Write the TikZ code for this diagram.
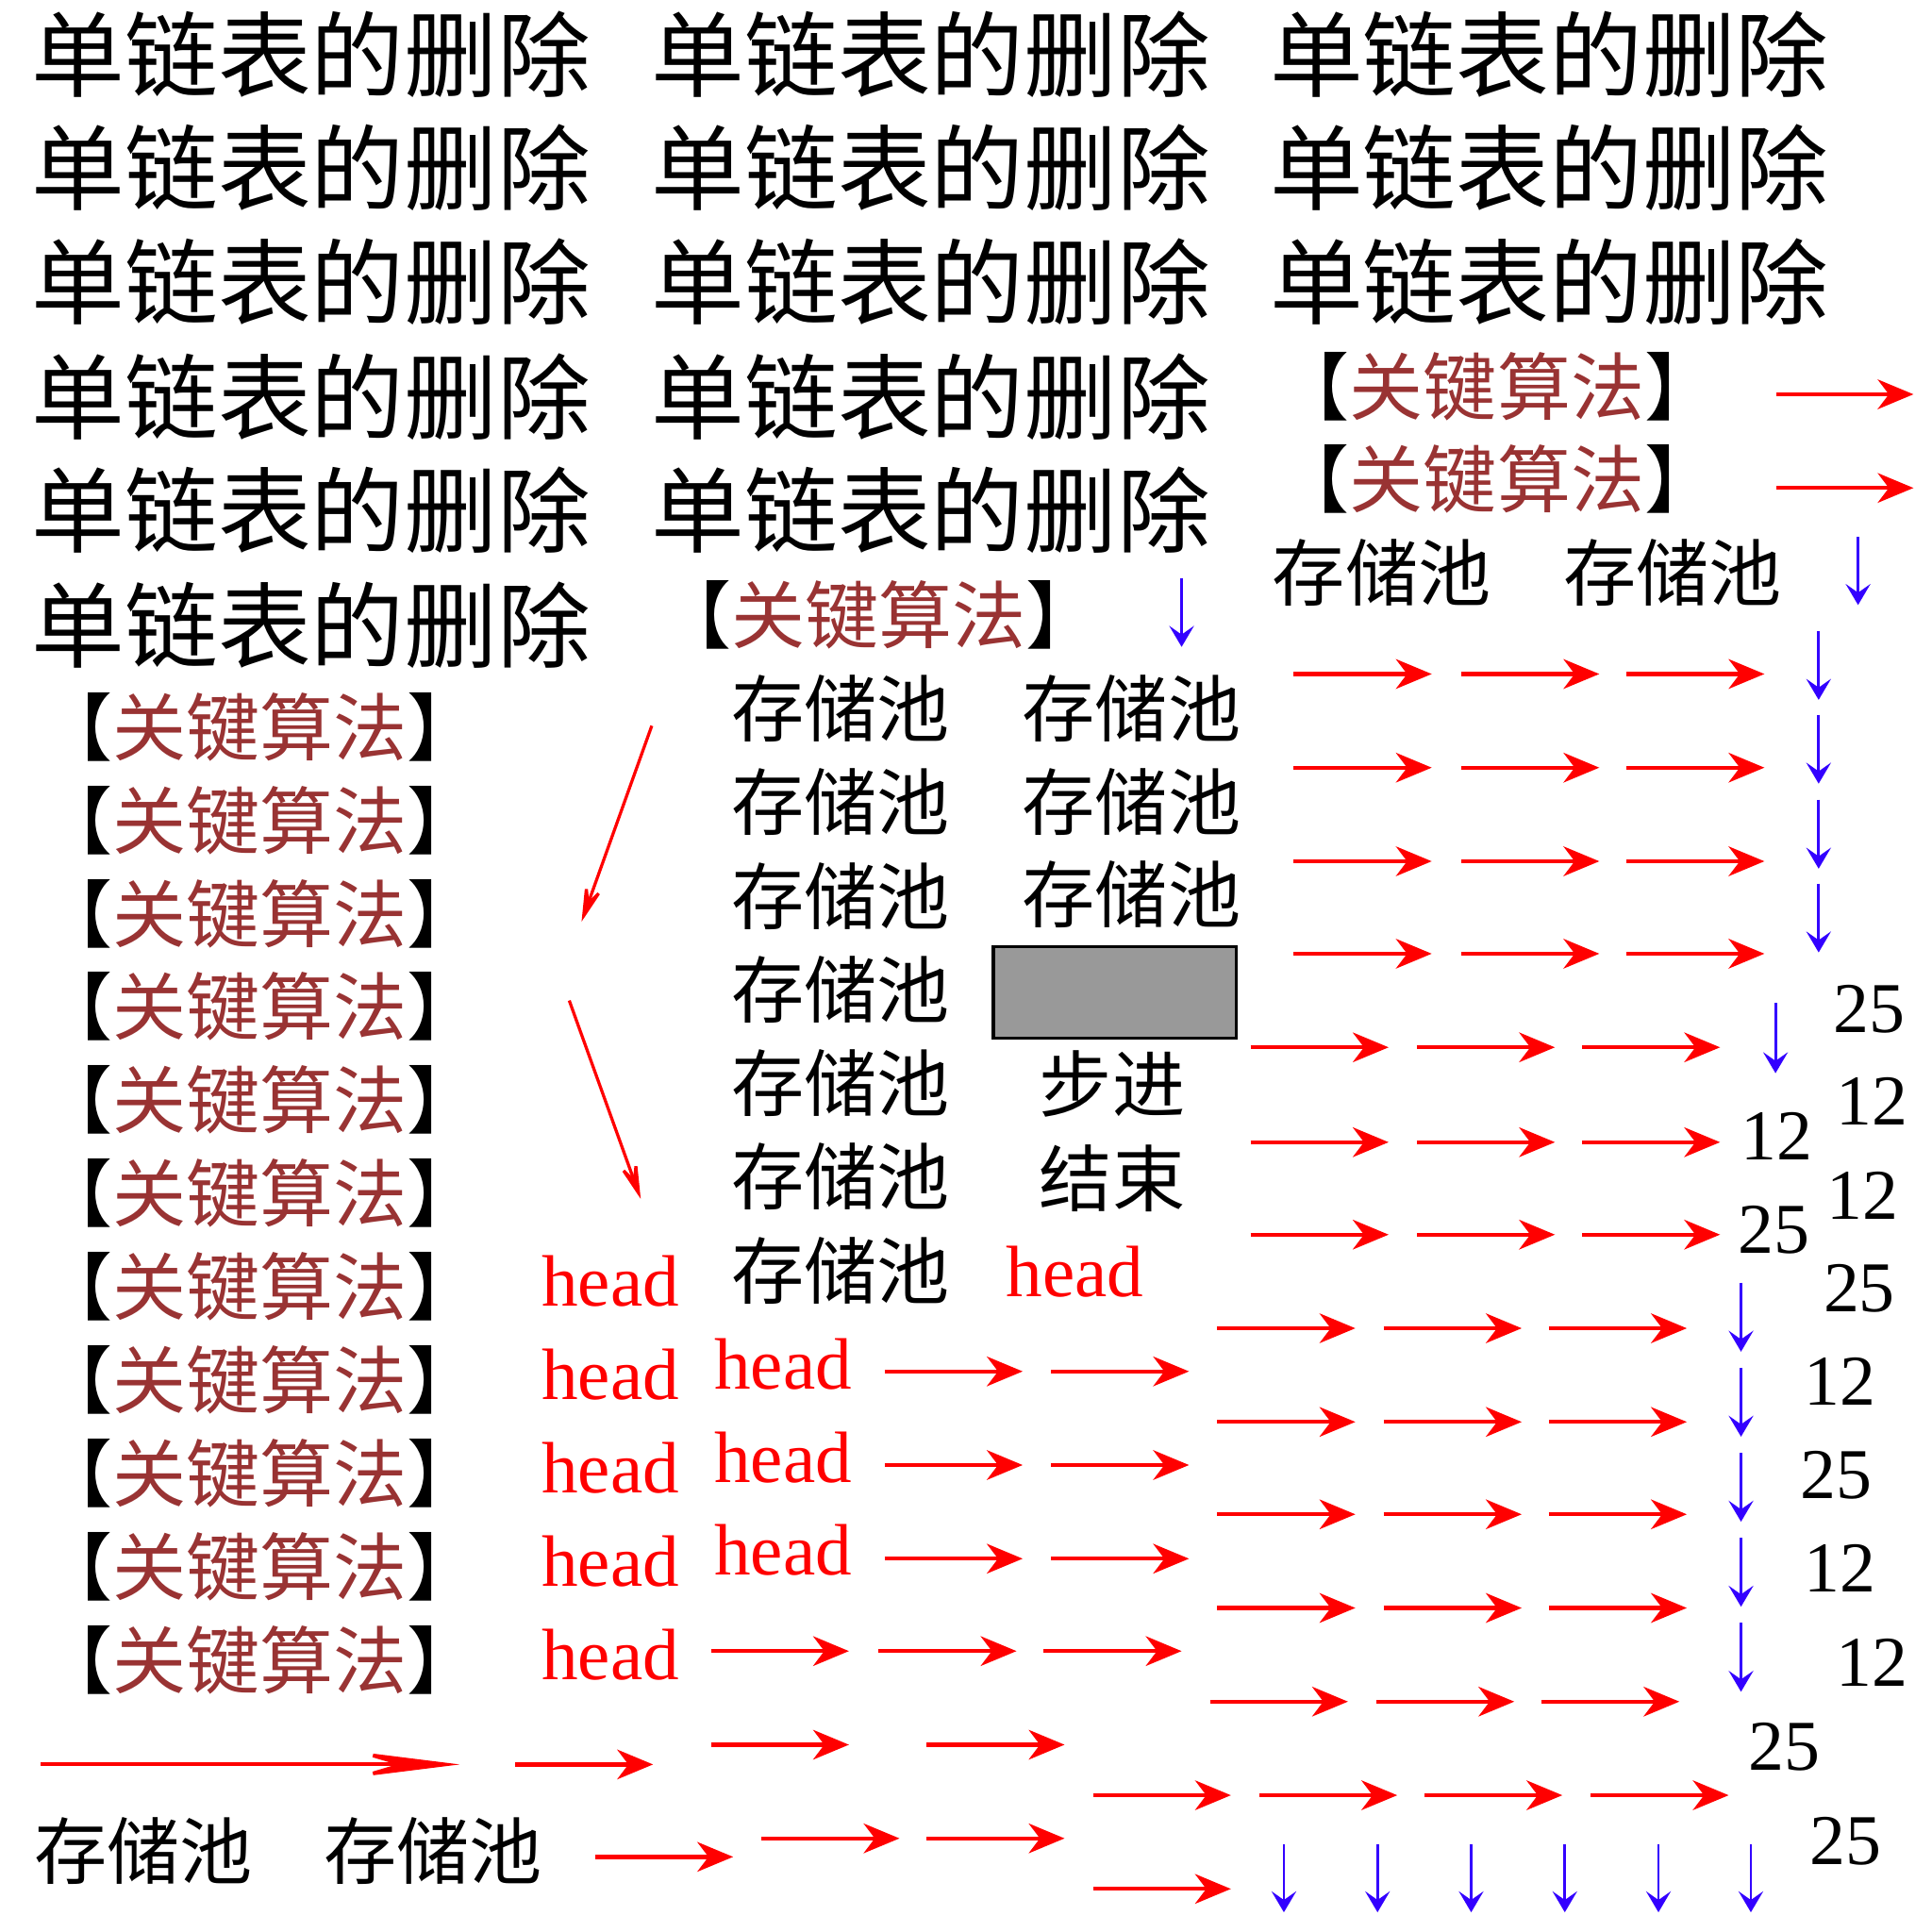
\documentclass[tikz,border=0pt]{standalone}
\usepackage{fontspec}
\setmainfont{Liberation Serif}
\newfontfamily\cjk{Noto Sans CJK SC}
\usepackage{tikz}
\usetikzlibrary{arrows.meta, positioning}
\usepackage{xcolor}
\definecolor{keyred}{HTML}{993333}
\definecolor{downblue}{HTML}{3300FF}
\definecolor{boxgray}{HTML}{999999}

\tikzset{
  deltxt/.style={font=\cjk\fontsize{21.5pt}{22pt}\selectfont, inner sep=0pt, anchor=west},
  keytxt/.style={font=\cjk\fontsize{17pt}{18pt}\selectfont, text=keyred, inner sep=0pt, anchor=west},
  pooltxt/.style={font=\cjk\fontsize{16.8pt}{17pt}\selectfont, inner sep=0pt, anchor=west},
  headtxt/.style={font=\fontsize{16.8pt}{17pt}\selectfont, text=red, inner sep=0pt, anchor=west},
  numtxt/.style={font=\fontsize{16.5pt}{17pt}\selectfont, inner sep=0pt},
  rarr/.style={red, line width=0.033cm, -{Stealth[length=0.29cm, width=0.24cm, inset=0.09cm]}},
  slantarr/.style={red, line width=0.025cm, -{Stealth[length=0.38cm, width=0.19cm, inset=0.2cm]}},
  longarr/.style={red, line width=0.03cm, -{Stealth[length=0.88cm, width=0.22cm, inset=0.37cm]}},
  barr/.style={downblue, line width=0.022cm, -{Stealth[length=0.17cm, width=0.2cm, inset=0.07cm]}}
}
\newcommand{\keyalg}{{\color{black}【}关键算法{\color{black}】}}

\begin{document}
\begin{tikzpicture}[x=0.01cm, y=-0.01cm]
        \useasboundingbox (0,0) rectangle (1568,1568);
        % title blocks
        \foreach \y [count=\i] in {44,136,229,322,414,507}
            \node[deltxt] (dela-\i) at (25,\y) {单链表的删除};
        \foreach \y [count=\i] in {44,136,229,322,414}
            \node[deltxt] (delb-\i) at (528,\y) {单链表的删除};
        \foreach \y [count=\i] in {44,136,229}
            \node[deltxt] (delc-\i) at (1030,\y) {单链表的删除};
        % key algorithm labels
        \node[keytxt] (keyr-1) at (1035,314) {\keyalg};
        \node[keytxt] (keyr-2) at (1035,389) {\keyalg};
        \node[keytxt] (keym) at (533,499) {\keyalg};
        \foreach \k in {0,...,10}
            \node[keytxt] (keyl-\k) at (31,{590+75.7*\k}) {\keyalg};
        % storage pools
        \node[pooltxt] (poolr-1) at (1032,465) {存储池};
        \node[pooltxt] (poolr-2) at (1268,465) {存储池};
        \foreach \k in {0,...,6}
            \node[pooltxt] (poola-\k) at (593,{575+76*\k}) {存储池};
        \foreach \y [count=\i] in {575,651,726}
            \node[pooltxt] (poolb-\i) at (829,\y) {存储池};
        \node[pooltxt] (poolbot-1) at (27,1502) {存储池};
        \node[pooltxt] (poolbot-2) at (262,1502) {存储池};
        % gray box, step, end
        \node[draw, line width=0.025cm, fill=boxgray, minimum width=1.97cm, minimum height=0.74cm, inner sep=0pt, anchor=north west] (gap) at (805,767) {};
        \node[pooltxt] (stepin) at (843,880) {步进};
        \node[pooltxt] (finish) at (843,956) {结束};
        % head labels
        \foreach \k in {0,...,4}
            \node[headtxt] (headl-\k) at (439,{1040+75.7*\k}) {head};
        \foreach \y [count=\i] in {1107,1183,1258}
            \node[headtxt] (headm-\i) at (579,\y) {head};
        \node[headtxt] (headr) at (816,1032) {head};
        % numbers
        \foreach \x/\y/\v [count=\i] in {1517/819/25, 1519/894/12, 1442/922/12, 1512/970/12,
                                          1440/998/25, 1509/1046/25, 1493/1121/12, 1490/1197/25,
                                          1493/1273/12, 1519/1349/12, 1448/1418/25, 1498/1494/25}
            \node[numtxt] (num-\i) at (\x,\y) {\v};
        % red arrows
        \foreach \y in {320,396} \draw[rarr] (1442,\y) -- ++(111,0);
        \foreach \y in {547,623,699,774} \foreach \x in {1050,1186,1320} \draw[rarr] (\x,\y) -- ++(112,0);
        \foreach \y in {850,927,1002} \foreach \x in {1015,1150,1284} \draw[rarr] (\x,\y) -- ++(112,0);
        \foreach \y in {1078,1154,1229,1305} \foreach \x in {988,1123,1257} \draw[rarr] (\x,\y) -- ++(112,0);
        \foreach \x in {982,1117,1251} \draw[rarr] (\x,1381) -- ++(112,0);
        \foreach \x in {887,1022,1156,1291} \draw[rarr] (\x,1457) -- ++(112,0);
        \draw[rarr] (887,1533) -- ++(112,0);
        \foreach \y in {1113,1189,1265} \foreach \x in {718,853} \draw[rarr] (\x,\y) -- ++(112,0);
        \foreach \x in {577,713,847} \draw[rarr] (\x,1340) -- ++(112,0);
        \foreach \x in {577,752} \draw[rarr] (\x,1416) -- ++(112,0);
        \foreach \x in {618,752} \draw[rarr] (\x,1492) -- ++(112,0);
        \draw[rarr] (418,1432) -- ++(112,0);
        \draw[rarr] (483,1507) -- ++(112,0);
        \draw[longarr] (33,1432) -- (373,1432);
        % slanted arrows
        \draw[slantarr] (529,589) -- (472,748);
        \draw[slantarr] (462,812) -- (520,973);
        % blue arrows
        \draw[barr] (959,469) -- ++(0,56);
        \draw[barr] (1508,436) -- ++(0,55);
        \foreach \y in {512,580,649,717} \draw[barr] (1476,\y) -- ++(0,56);
        \draw[barr] (1441,814) -- ++(0,57);
        \foreach \y in {1041,1110,1179,1248,1317} \draw[barr] (1413,\y) -- ++(0,56);
        \foreach \x in {1042,1118,1194,1270,1346,1421} \draw[barr] (\x,1497) -- ++(0,55);
    \end{tikzpicture}
\end{document}
